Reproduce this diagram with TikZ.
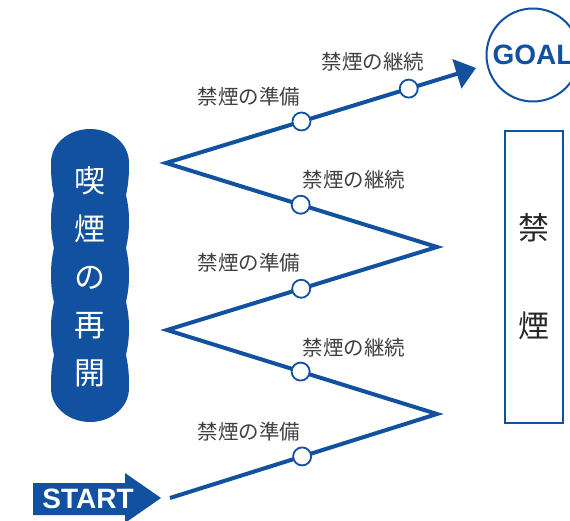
\documentclass[tikz,border=0pt]{standalone}
\usepackage{fontspec}
\newfontfamily\jpfont{Noto Sans CJK JP}
\newfontfamily\enfont{Liberation Sans}
\usetikzlibrary{arrows.meta,calc}
\definecolor{kblue}{RGB}{18,80,160}
\definecolor{lblgray}{RGB}{64,64,64}

\begin{document}
\begin{tikzpicture}[x=1pt,y=1pt,
    lbl/.style={font=\jpfont\fontsize{20.5}{20}\selectfont, text=lblgray, inner sep=0pt},
    dot/.style={circle, draw=kblue, line width=1.8pt, fill=white, minimum size=18pt, inner sep=0pt},
    zig/.style={draw=kblue, line width=4pt}]
  \useasboundingbox (0,0) rectangle (570,520);

  % start arrow
  \fill[kblue] (33,5) -- (33,37) -- (125,37) -- (125,47) -- (161,22) -- (125,-3) -- (125,5) -- cycle;
  \node[font=\enfont\bfseries\fontsize{28}{28}\selectfont, text=white] (start) at (88,21) {START};

  % zigzag
  \coordinate (s0) at (170,22);
  \coordinate (v1) at (437,106);
  \coordinate (v2) at (167,190);
  \coordinate (v3) at (437,273);
  \coordinate (v4) at (166,357);
  \coordinate (gtip) at (476,452);
  \draw[zig, -{Triangle[length=20pt,width=30pt]}] (s0) -- (v1) -- (v2) -- (v3) -- (v4) -- (gtip);

  \node[dot] (c1) at ($(s0)!.495!(v1)$) {};
  \node[dot] (c2) at ($(v1)!.505!(v2)$) {};
  \node[dot] (c3) at ($(v2)!.497!(v3)$) {};
  \node[dot] (c4) at ($(v3)!.503!(v4)$) {};
  \node[dot] (c5) at ($(v4)!.437!(gtip)$) {};
  \node[dot] (c6) at ($(v4)!.783!(gtip)$) {};

  \node[lbl] (l1) at (249,88) {禁煙の準備};
  \node[lbl] (l2) at (354,172) {禁煙の継続};
  \node[lbl] (l3) at (249,257) {禁煙の準備};
  \node[lbl] (l4) at (354,340) {禁煙の継続};
  \node[lbl] (l5) at (249,423) {禁煙の準備};
  \node[lbl] (l6) at (373,458) {禁煙の継続};

  % relapse
  \fill[kblue] (90,391) to[out=0,in=90] (129,357)
    to[out=-90,in=78] (126,325) to[out=-78,in=90] (129,299)
    to[out=-90,in=78] (126,272) to[out=-78,in=90] (129,245)
    to[out=-90,in=78] (126,218) to[out=-78,in=90] (129,192)
    to[out=-90,in=78] (126,165) to[out=-78,in=90] (129,132)
    to[out=-90,in=0] (90,98)
    to[out=180,in=-90] (51,132) to[out=90,in=-102] (54,165)
    to[out=102,in=-90] (51,192) to[out=90,in=-102] (54,218)
    to[out=102,in=-90] (51,245) to[out=90,in=-102] (54,272)
    to[out=102,in=-90] (51,299) to[out=90,in=-102] (54,325)
    to[out=102,in=-90] (51,357) to[out=90,in=180] (90,391) -- cycle;
  \node[font=\jpfont\fontsize{31}{48}\selectfont, text=white, align=center, inner sep=0pt] (saikai) at (90,243) {喫\\煙\\の\\再\\開};

  % no smoking
  \node[draw=kblue, line width=1.8pt, minimum width=58pt, minimum height=292pt, inner sep=0pt,
    font=\jpfont\fontsize{31}{98}\selectfont, text=black!85, align=center] (kinen) at (534,243) {禁\\煙};

  % goal
  \node[circle, draw=kblue, line width=2pt, minimum size=93pt, inner sep=0pt, text=kblue,
    font=\enfont\bfseries\fontsize{28}{28}\selectfont] (goal) at (533,465) {GOAL};
\end{tikzpicture}
\end{document}
